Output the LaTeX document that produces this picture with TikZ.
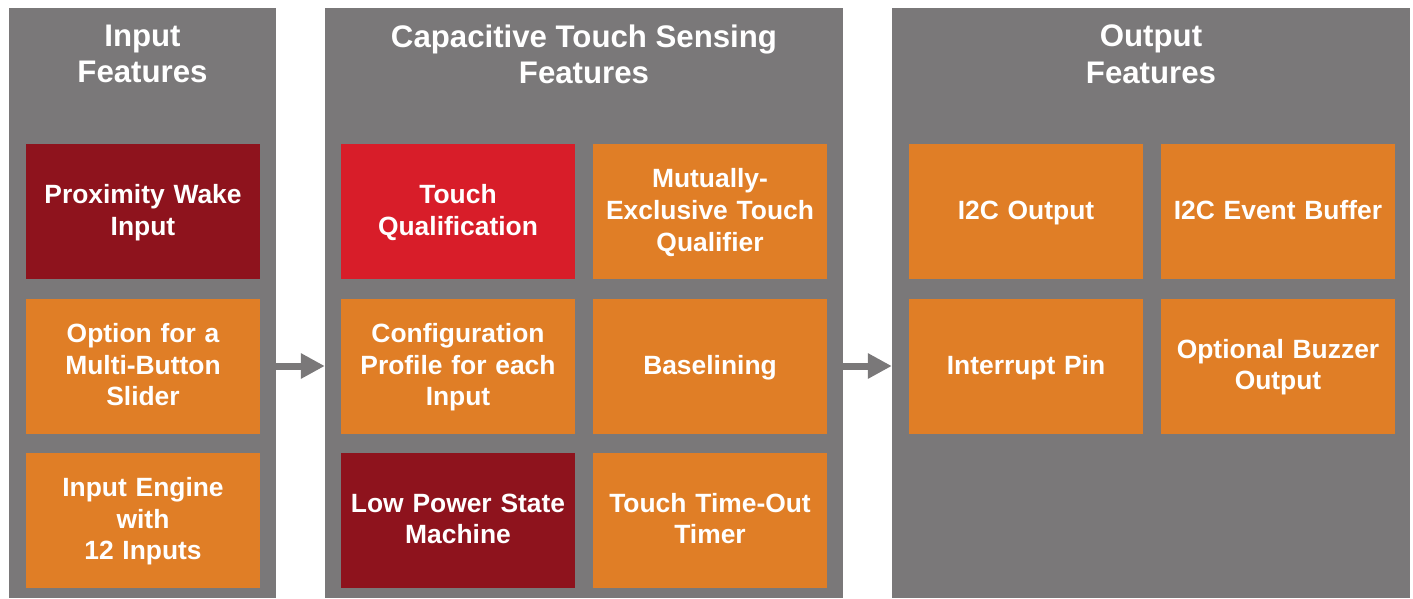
\documentclass[tikz,border=0pt]{standalone}
\usepackage{fontspec}
\setmainfont{Liberation Sans}
\usetikzlibrary{arrows.meta}
\definecolor{panelgray}{RGB}{122,120,121}
\definecolor{darkred}{RGB}{142,19,29}
\definecolor{brightred}{RGB}{216,29,41}
\definecolor{featorange}{RGB}{224,126,38}
\newcommand\featstrut{\rule[-7pt]{0pt}{30pt}}
\newcommand\titlestrut{\rule[-8pt]{0pt}{34pt}}
\tikzset{
  panel/.style={fill=panelgray, draw=none, inner sep=0pt, minimum width=#1, minimum height=590pt},
  paneltitle/.style={text=white, font=\fontsize{31.2}{36.3}\selectfont\bfseries, align=center, inner sep=0pt,
    execute at begin node=\titlestrut, execute at end node=\titlestrut},
  feat/.style={fill=#1, draw=none, text=white, minimum width=234pt, minimum height=135pt, inner sep=0pt,
    text width=230pt, align=center, font=\fontsize{26.4}{31.8}\selectfont\bfseries,
    execute at begin node=\featstrut, execute at end node=\featstrut},
  flow/.style={draw=panelgray, line width=7pt, -{Triangle[length=24pt,width=24pt]}}
}
\begin{document}
\begin{tikzpicture}[x=1pt,y=-1pt]
\useasboundingbox (0,0) rectangle (1413,598);
% panels
\node[panel=267pt] (p1) at (142.5,303) {};
\node[panel=518pt] (p2) at (584,303) {};
\node[panel=518pt] (p3) at (1151,303) {};
% titles
\node[paneltitle] (t1) at (142.5,58) {Input\\Features};
\node[paneltitle] (t2) at (584,58) {Capacitive Touch Sensing\\Features};
\node[paneltitle] (t3) at (1151,58) {Output\\Features};
% panel 1 boxes
\node[feat=darkred] (a1) at (143,211.5) {Proximity Wake\\Input};
\node[feat=featorange] (a2) at (143,366) {Option for a\\Multi-Button\\Slider};
\node[feat=featorange] (a3) at (143,520) {Input Engine\\with\\12 Inputs};
% panel 2 boxes
\node[feat=brightred] (b11) at (458,211.5) {Touch\\Qualification};
\node[feat=featorange] (b12) at (710,211.5) {Mutually-\\Exclusive Touch\\Qualifier};
\node[feat=featorange] (b21) at (458,366) {Configuration\\Profile for each\\Input};
\node[feat=featorange] (b22) at (710,366) {Baselining};
\node[feat=darkred] (b31) at (458,520) {Low Power State\\Machine};
\node[feat=featorange] (b32) at (710,520) {Touch Time-Out\\Timer};
% panel 3 boxes
\node[feat=featorange] (c11) at (1026,211.5) {I2C Output};
\node[feat=featorange] (c12) at (1278,211.5) {I2C Event Buffer};
\node[feat=featorange] (c21) at (1026,366) {Interrupt Pin};
\node[feat=featorange] (c22) at (1278,366) {Optional Buzzer\\Output};
% arrows
\draw[flow] (a2.center -| p1.east) -- (a2.center -| p2.west);
\draw[flow] (b22.center -| p2.east) -- (b22.center -| p3.west);
\end{tikzpicture}
\end{document}
